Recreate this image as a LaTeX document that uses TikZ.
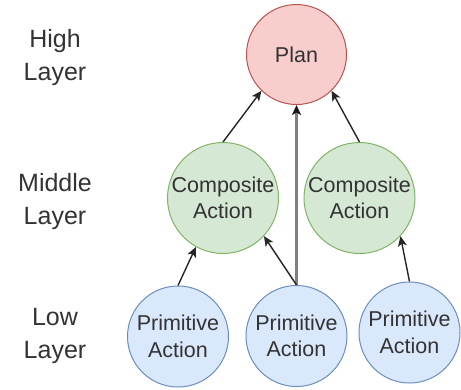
\documentclass[tikz,border=0pt]{standalone}
\usepackage{fontspec}
\setmainfont{Liberation Sans}
\usetikzlibrary{arrows.meta}

\definecolor{planfill}{HTML}{F8CECC}
\definecolor{planline}{HTML}{B85450}
\definecolor{compfill}{HTML}{D5E8D4}
\definecolor{compline}{HTML}{82B366}
\definecolor{primfill}{HTML}{DAE8FC}
\definecolor{primline}{HTML}{6C8EBF}
\definecolor{txt}{HTML}{333333}

\tikzset{
  ball/.style={circle, inner sep=0pt, minimum size=101pt, line width=1pt,
    align=center, text=txt, font=\fontsize{21.5}{26.5}\selectfont},
  planball/.style={ball, draw=planline, fill=planfill, minimum size=100pt},
  compball/.style={ball, draw=compline, fill=compfill},
  primball/.style={ball, draw=primline, fill=primfill},
  layerlabel/.style={align=center, inner sep=0pt, text=txt,
    font=\fontsize{25}{33}\selectfont},
  link/.style={line width=1.4pt, black!85,
    -{Stealth[length=10pt, width=9pt, inset=2.5pt]}},
  mainlink/.style={line width=2.2pt, black!50,
    -{Stealth[length=10pt, width=9pt, inset=2.5pt, color=black!90]}}
}

\begin{document}
\begin{tikzpicture}[x=1pt, y=-1pt]
  \useasboundingbox (0,0) rectangle (461,389);

  % layer captions
  \node[layerlabel] (high) at (55,58)  {High\\Layer};
  \node[layerlabel] (mid)  at (55,201.7) {Middle\\Layer};
  \node[layerlabel] (low)  at (55,336) {Low\\Layer};

  % hierarchy
  \node[planball] (plan)  at (296.5,54.5) {Plan};
  \node[compball] (compL) at (223,198)    {Composite\\Action};
  \node[compball] (compR) at (359.5,198)  {Composite\\Action};
  \node[primball] (prim1) at (178,336.5)  {Primitive\\Action};
  \node[primball] (prim2) at (296.5,336)  {Primitive\\Action};
  \node[primball] (prim3) at (409.5,332.5){Primitive\\Action};

  % connectors
  \draw[mainlink] (prim2.north) -- (plan.south);
  \draw[link] (compL.north) -- (plan.226);
  \draw[link] (compR.north) -- (plan.314);
  \draw[link] (prim1.north) -- (compL.241);
  \draw[link] (prim2.north) -- (compL.317);
  \draw[link] (prim3.north) -- (compR.317);
\end{tikzpicture}
\end{document}
